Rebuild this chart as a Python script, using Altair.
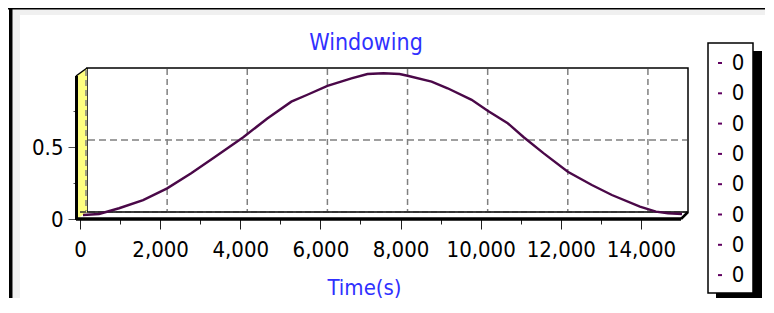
import altair as alt
import pandas as pd

# ---------------- data ----------------
time_s = [0, 400, 900, 1500, 2100, 2700, 3300, 4000, 4600, 5200, 5600, 6100,
          6700, 7100, 7500, 7900, 8100, 8700, 9100, 9700, 10100, 10600, 11000,
          11500, 12100, 12700, 13200, 13900, 14300, 14600, 14950]
window = [0.0, 0.007, 0.047, 0.104, 0.185, 0.29, 0.405, 0.54, 0.67, 0.787,
          0.835, 0.896, 0.949, 0.979, 0.984, 0.979, 0.967, 0.926, 0.88, 0.80,
          0.724, 0.637, 0.54, 0.428, 0.30, 0.208, 0.139, 0.058, 0.023, 0.012,
          0.007]
x_ticks = [i * 500 for i in range(30)]
y_ticks = [i * 0.125 for i in range(8)]
grid_x = [2000, 4000, 6000, 8000, 10000, 12000, 14000]
grid_y = [0.5]
legend_labels = ["0", "0", "0", "0", "0", "0", "0", "0"]
chart_title = "Windowing"
x_title = "Time(s)"

# ---------------- layout ----------------
OX, OY = 80, 75          # page position of front plot plane (top-left)
W, H = 601, 144
D = 7                    # 3D depth offset

FONT = "DejaVu Sans Condensed, Liberation Sans, sans-serif"
BLUE = "#3030ff"
LINE = "#4a0848"


def vx(p):
    return p - OX


def vy(p):
    return p - OY


def X(f):
    return alt.X(f, scale=None, axis=None)


def Y(f):
    return alt.Y(f, scale=None, axis=None)


# outer frame (black border + gray strip), legend shadow
frame = pd.DataFrame([
    dict(x=vx(12.5), x2=vx(800), y=vy(9.5), y2=vy(15), c="#f0f0f0"),
    dict(x=vx(12.5), x2=vx(20), y=vy(9.5), y2=vy(330), c="#f0f0f0"),
    dict(x=vx(0), x2=vx(800), y=vy(0), y2=vy(9.5), c="#000000"),
    dict(x=vx(9), x2=vx(12.5), y=vy(0), y2=vy(330), c="#000000"),
    dict(x=vx(716), x2=vx(762), y=vy(51), y2=vy(300), c="#000000"),
])
frame_layer = alt.Chart(frame).mark_rect().encode(
    x=X("x:Q"), x2="x2:Q", y=Y("y:Q"), y2="y2:Q",
    color=alt.Color("c:N", scale=None, legend=None))

# back wall
back = pd.DataFrame([dict(x=vx(87), x2=vx(688), y=vy(68), y2=vy(212))])
back_layer = alt.Chart(back).mark_rect(fill="white", stroke="#000000",
                                       strokeWidth=1.5).encode(
    x=X("x:Q"), x2="x2:Q", y=Y("y:Q"), y2="y2:Q")

# left (yellow) wall
wall = pd.DataFrame(dict(x=[vx(77), vx(87)], y=[vy(75), vy(68)],
                         y2=[vy(219), vy(212)]))
wall_layer = alt.Chart(wall).mark_area(color="#ffff80", opacity=1).encode(
    x=X("x:Q"), y=alt.Y("y:Q", scale=None, axis=None, stack=None), y2="y2:Q")

# gridlines on back wall
gx = pd.DataFrame(dict(t=grid_x))
gridx_layer = alt.Chart(gx).mark_rule(color="#808080", strokeWidth=1.5,
                                      strokeDash=[6, 4], xOffset=D).encode(
    x=alt.X("t:Q"), y=alt.value(vy(69)), y2=alt.value(vy(211)))
gy = pd.DataFrame(dict(v=grid_y))
gridy_layer = alt.Chart(gy).mark_rule(color="#808080", strokeWidth=1.5,
                                      strokeDash=[7, 4], yOffset=-D).encode(
    y=alt.Y("v:Q"), x=alt.value(vx(88)), x2=alt.value(vx(687)))
g0 = pd.DataFrame(dict(v=[0]))
grid0_layer = alt.Chart(g0).mark_rule(color="#303030", strokeWidth=1.5,
                                      strokeDash=[6, 3], yOffset=-D).encode(
    y=alt.Y("v:Q"), x=alt.value(vx(80)), x2=alt.value(vx(688)))

# dashed back-left edge on the yellow wall
dash_edges = pd.DataFrame([dict(x=vx(86), y=vy(70), x2=vx(86), y2=vy(211))])
dash_layer = alt.Chart(dash_edges).mark_rule(color="#808080", strokeWidth=1.5,
                                             strokeDash=[6, 4]).encode(
    x=X("x:Q"), y=Y("y:Q"), x2="x2:Q", y2="y2:Q")

# solid 3D edges
edges = pd.DataFrame([
    dict(x=vx(76.5), y=vy(76), x2=vx(76.5), y2=vy(220), w=3),
    dict(x=vx(76), y=vy(76), x2=vx(87), y2=vy(68), w=1.5),
    dict(x=vx(76), y=vy(219), x2=vx(681), y2=vy(219), w=3.5),
    dict(x=vx(681), y=vy(219), x2=vx(688), y2=vy(212), w=2.5),
])
edge_layer = alt.Chart(edges).mark_rule(color="#000000").encode(
    x=X("x:Q"), y=Y("y:Q"), x2="x2:Q", y2="y2:Q",
    strokeWidth=alt.StrokeWidth("w:Q", scale=None, legend=None))

# the series
series = pd.DataFrame(dict(t=time_s, v=window))
x_axis = alt.Axis(
    values=x_ticks, domain=False, grid=False,
    labelExpr="datum.value % 2000 === 0 ? format(datum.value, ',') : ''",
    labelFlush=False, labelOverlap=False,
    tickSize={"condition": {"test": "datum.value % 2000 === 0", "value": 10},
              "value": 5},
    tickColor="#202020", tickWidth=1,
    labelFont=FONT, labelFontSize=22, labelColor="#000000", labelPadding=10,
    title=x_title, titleFont=FONT, titleFontSize=22, titleColor=BLUE,
    titleFontWeight="normal", titleX=vx(364), titleY=75,
    titleBaseline="alphabetic", titleAlign="center")
y_axis = alt.Axis(
    values=y_ticks, domain=False, grid=False, offset=2,
    labelExpr="datum.value === 0 ? '0' : (datum.value === 0.5 ? '0.5' : '')",
    labelOverlap=False,
    tickSize={"condition": {"test": "datum.value % 0.5 === 0", "value": 10},
              "value": 5},
    tickColor="#505050", tickWidth=1,
    labelFont=FONT, labelFontSize=22, labelColor="#000000", labelPadding=5,
    title=None)
line_layer = alt.Chart(series).mark_line(color=LINE, strokeWidth=2.4,
                                         xOffset=3, yOffset=-4).encode(
    x=alt.X("t:Q", scale=alt.Scale(domain=[0, 15000], nice=False, zero=False),
            axis=x_axis),
    y=alt.Y("v:Q", scale=alt.Scale(domain=[0, 1], nice=False), axis=y_axis))

# chart title
title_layer = alt.Chart(pd.DataFrame(dict(s=[chart_title]))).mark_text(
    font=FONT, fontSize=23, color=BLUE, align="center",
    baseline="alphabetic").encode(
    text="s:N", x=alt.value(vx(366)), y=alt.value(vy(50)))

# legend box + entries
box = pd.DataFrame([dict(x=vx(708), x2=vx(753), y=vy(43), y2=vy(293))])
box_layer = alt.Chart(box).mark_rect(fill="white", stroke="#000000",
                                     strokeWidth=1.5).encode(
    x=X("x:Q"), x2="x2:Q", y=Y("y:Q"), y2="y2:Q")
leg = pd.DataFrame(dict(label=legend_labels,
                        ly=[vy(63 + 30.3 * i) for i in range(len(legend_labels))]))
leg_dash = alt.Chart(leg).mark_rule(color="#600060", strokeWidth=2).encode(
    x=alt.value(vx(718)), x2=alt.value(vx(722)), y=Y("ly:Q"))
leg_text = alt.Chart(leg).mark_text(font=FONT, fontSize=22, color="#000000",
                                    align="center", baseline="middle").encode(
    x=alt.value(vx(738)), y=Y("ly:Q"), text="label:N")

chart = alt.layer(
    frame_layer, back_layer, wall_layer, gridx_layer, gridy_layer,
    grid0_layer, dash_layer, line_layer, edge_layer, title_layer,
    box_layer, leg_dash, leg_text
).properties(
    width=W, height=H,
    autosize=alt.AutoSizeParams(type="none"),
    padding={"left": OX - 8, "top": OY - 8, "right": 757 - (OX - 8) - W,
             "bottom": 290 - (OY - 8) - H},
    background="white"
).configure_view(stroke=None)

chart.save("out.html", embed_options={"renderer": "svg", "actions": False})
